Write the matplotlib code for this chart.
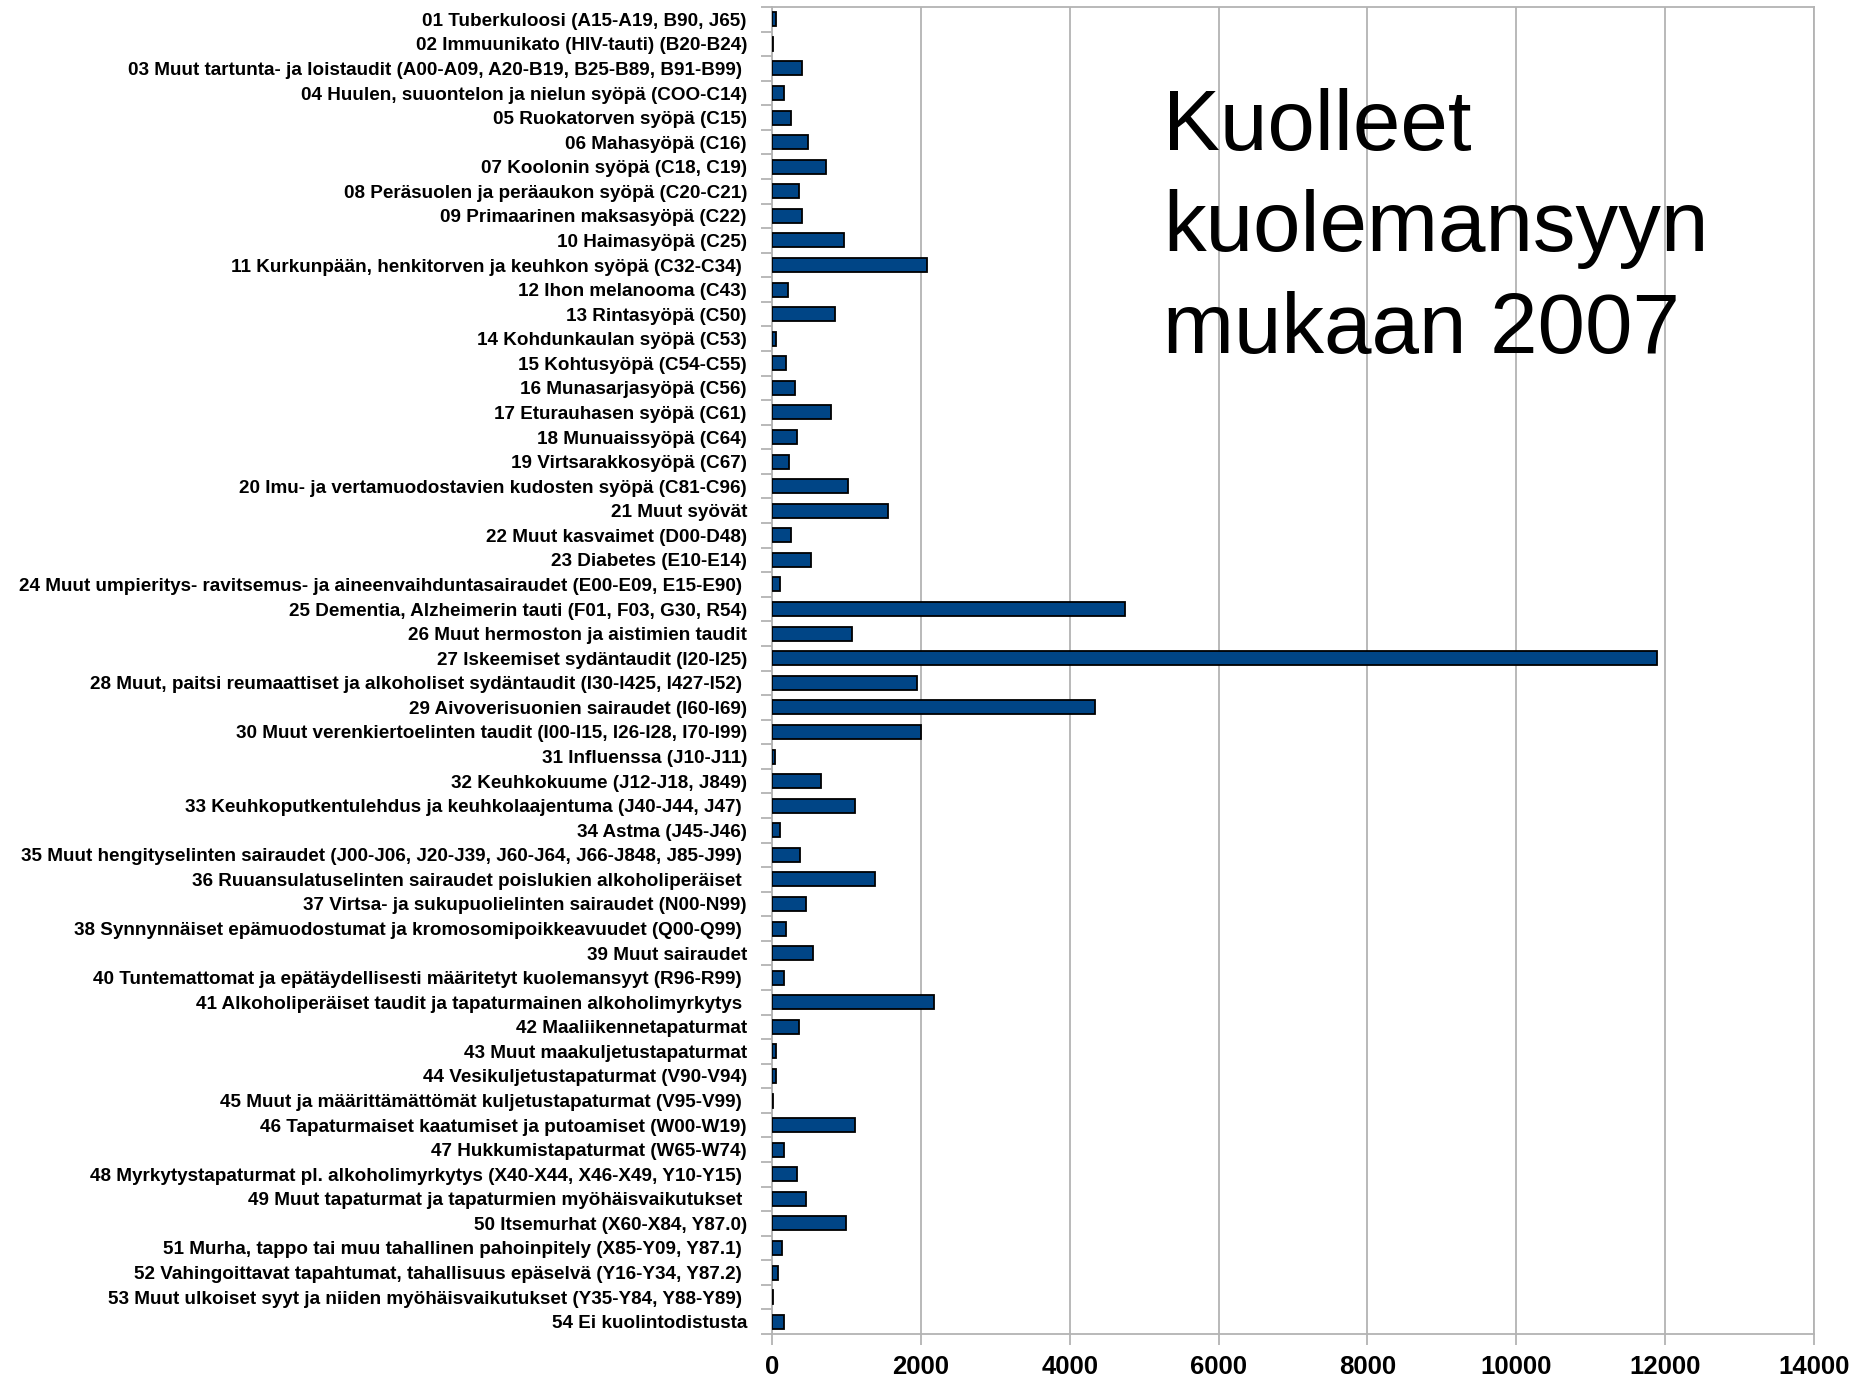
import matplotlib
matplotlib.use("Agg")
import matplotlib.pyplot as plt
import numpy as np
from matplotlib.ticker import FixedLocator

categories = [
    "01 Tuberkuloosi (A15-A19, B90, J65)",
    "02 Immuunikato (HIV-tauti) (B20-B24)",
    "03 Muut tartunta- ja loistaudit (A00-A09, A20-B19, B25-B89, B91-B99) ",
    "04 Huulen, suuontelon ja nielun syöpä (COO-C14)",
    "05 Ruokatorven syöpä (C15)",
    "06 Mahasyöpä (C16)",
    "07 Koolonin syöpä (C18, C19)",
    "08 Peräsuolen ja peräaukon syöpä (C20-C21)",
    "09 Primaarinen maksasyöpä (C22)",
    "10 Haimasyöpä (C25)",
    "11 Kurkunpään, henkitorven ja keuhkon syöpä (C32-C34) ",
    "12 Ihon melanooma (C43)",
    "13 Rintasyöpä (C50)",
    "14 Kohdunkaulan syöpä (C53)",
    "15 Kohtusyöpä (C54-C55)",
    "16 Munasarjasyöpä (C56)",
    "17 Eturauhasen syöpä (C61)",
    "18 Munuaissyöpä (C64)",
    "19 Virtsarakkosyöpä (C67)",
    "20 Imu- ja vertamuodostavien kudosten syöpä (C81-C96)",
    "21 Muut syövät",
    "22 Muut kasvaimet (D00-D48)",
    "23 Diabetes (E10-E14)",
    "24 Muut umpieritys- ravitsemus- ja aineenvaihduntasairaudet (E00-E09, E15-E90) ",
    "25 Dementia, Alzheimerin tauti (F01, F03, G30, R54)",
    "26 Muut hermoston ja aistimien taudit",
    "27 Iskeemiset sydäntaudit (I20-I25)",
    "28 Muut, paitsi reumaattiset ja alkoholiset sydäntaudit (I30-I425, I427-I52) ",
    "29 Aivoverisuonien sairaudet (I60-I69)",
    "30 Muut verenkiertoelinten taudit (I00-I15, I26-I28, I70-I99)",
    "31 Influenssa (J10-J11)",
    "32 Keuhkokuume (J12-J18, J849)",
    "33 Keuhkoputkentulehdus ja keuhkolaajentuma (J40-J44, J47) ",
    "34 Astma (J45-J46)",
    "35 Muut hengityselinten sairaudet (J00-J06, J20-J39, J60-J64, J66-J848, J85-J99) ",
    "36 Ruuansulatuselinten sairaudet poislukien alkoholiperäiset ",
    "37 Virtsa- ja sukupuolielinten sairaudet (N00-N99)",
    "38 Synnynnäiset epämuodostumat ja kromosomipoikkeavuudet (Q00-Q99) ",
    "39 Muut sairaudet",
    "40 Tuntemattomat ja epätäydellisesti määritetyt kuolemansyyt (R96-R99) ",
    "41 Alkoholiperäiset taudit ja tapaturmainen alkoholimyrkytys ",
    "42 Maaliikennetapaturmat",
    "43 Muut maakuljetustapaturmat",
    "44 Vesikuljetustapaturmat (V90-V94)",
    "45 Muut ja määrittämättömät kuljetustapaturmat (V95-V99) ",
    "46 Tapaturmaiset kaatumiset ja putoamiset (W00-W19)",
    "47 Hukkumistapaturmat (W65-W74)",
    "48 Myrkytystapaturmat pl. alkoholimyrkytys (X40-X44, X46-X49, Y10-Y15) ",
    "49 Muut tapaturmat ja tapaturmien myöhäisvaikutukset ",
    "50 Itsemurhat (X60-X84, Y87.0)",
    "51 Murha, tappo tai muu tahallinen pahoinpitely (X85-Y09, Y87.1) ",
    "52 Vahingoittavat tapahtumat, tahallisuus epäselvä (Y16-Y34, Y87.2) ",
    "53 Muut ulkoiset syyt ja niiden myöhäisvaikutukset (Y35-Y84, Y88-Y89) ",
    "54 Ei kuolintodistusta",
]

deaths = [
    58, 13, 402, 156, 254, 478, 723, 357, 402, 969,
    2076, 210, 848, 58, 183, 308, 795, 330, 232, 1018,
    1562, 259, 527, 112, 4741, 1071, 11893, 1951, 4342, 2000,
    40, 652, 1116, 107, 379, 1384, 455, 183, 549, 156,
    2174, 357, 58, 58, 13, 1120, 156, 330, 455, 995,
    134, 80, 13, 156,
]

x_ticks = [0, 2000, 4000, 6000, 8000, 10000, 12000, 14000]
title_lines = ["Kuolleet", "kuolemansyyn", "mukaan 2007"]

W, H = 1864, 1379
fig = plt.figure(figsize=(W / 100, H / 100), dpi=100)
ax = fig.add_axes([772 / W, 1 - 1334 / H, (1814 - 772) / W, (1334 - 7) / H])

grey = "#b3b3b3"
y = np.arange(len(categories))
ax.barh(y, deaths, height=0.57, color="#004586", edgecolor="black",
        linewidth=1.3, zorder=3)

ax.set_xlim(0, 14000)
ax.set_ylim(len(categories) - 0.5, -0.5)

ax.set_xticks(x_ticks)
ax.set_xticklabels([str(v) for v in x_ticks],
                   fontfamily=["Liberation Sans", "DejaVu Sans"],
                   fontweight="bold", fontsize=18.5)
ax.grid(axis="x", color=grey, linewidth=1.3, zorder=0)
ax.tick_params(axis="x", length=8, width=1.3, color=grey, pad=7)

ax.set_yticks(y)
ax.set_yticklabels(categories, fontfamily=["Liberation Sans", "DejaVu Sans"],
                   fontweight="bold", fontsize=13.6)
ax.tick_params(axis="y", which="major", length=0, pad=18)
ax.yaxis.set_minor_locator(FixedLocator(np.arange(-0.5, len(categories), 1.0)))
ax.tick_params(axis="y", which="minor", length=8, width=1.3, color=grey)

for s in ax.spines.values():
    s.set_color(grey)
    s.set_linewidth(1.3)

baselines = [150, 251, 353]
for line, b in zip(title_lines, baselines):
    fig.text(1163 / W, 1 - b / H, line, fontsize=61.5,
             fontfamily=["Liberation Sans", "DejaVu Sans"],
             ha="left", va="baseline", color="black")

fig.savefig("out.png", dpi=100, facecolor="white")
